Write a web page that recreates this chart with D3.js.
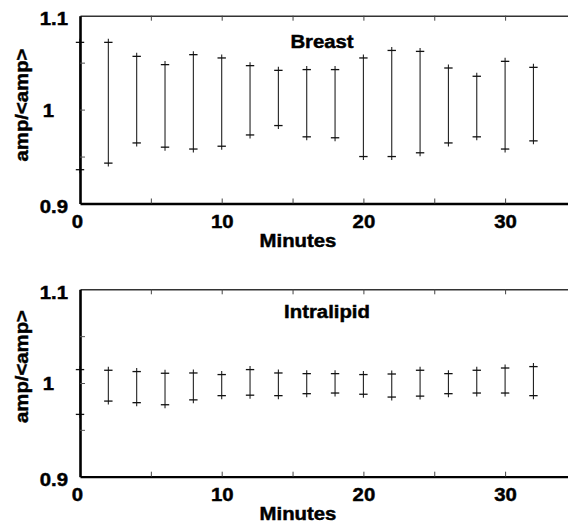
<!DOCTYPE html>
<html>
<head>
<meta charset="utf-8">
<script src="https://cdn.jsdelivr.net/npm/d3@7"></script>
<style>
  html, body { margin: 0; padding: 0; background: #fff; }
  svg { display: block; }
  text { font-family: "Liberation Sans", Arial, Helvetica, sans-serif; font-weight: bold; fill: #000; stroke: #000; stroke-width: 0.45px; }
</style>
</head>
<body>
<svg id="chart" width="568" height="526"></svg>
<script>
// ---- data ----
const minutes = [0, 2, 4, 6, 8, 10, 12, 14, 16, 18, 20, 22, 24, 26, 28, 30, 32];
const breastHigh = [1.0716, 1.0716, 1.0567, 1.0479, 1.0585, 1.0550, 1.0468, 1.0418, 1.0426, 1.0426, 1.0550, 1.0630, 1.0620, 1.0443, 1.0355, 1.0514, 1.0450];
const breastLow  = [0.9360, 0.9430, 0.9645, 0.9600, 0.9580, 0.9610, 0.9730, 0.9830, 0.9710, 0.9700, 0.9500, 0.9500, 0.9540, 0.9645, 0.9710, 0.9580, 0.9667];
const intraHigh  = [1.0143, 1.0136, 1.0122, 1.0104, 1.0107, 1.0090, 1.0143, 1.0107, 1.0100, 1.0100, 1.0090, 1.0096, 1.0136, 1.0100, 1.0136, 1.0160, 1.0175];
const intraLow   = [0.9665, 0.9807, 0.9790, 0.9768, 0.9820, 0.9865, 0.9870, 0.9865, 0.9886, 0.9893, 0.9880, 0.9850, 0.9860, 0.9886, 0.9893, 0.9893, 0.9865];
const panelTitles = ["Breast", "Intralipid"];
const xLabelTicks = [0, 10, 20, 30];
const xMinorTicks = [5, 10, 15, 20, 25, 30, 35];
const yLabelTicks = [0.9, 1, 1.1];
const yMinorTicks = [0.95, 1, 1.05];
const xTitle = "Minutes";
const yTitle = "amp/<amp>";

// ---- layout ----
const svg = d3.select("#chart");
const SX = 1.13; // horizontal stretch of the original lettering
const FS = 18;

const x = d3.scaleLinear().domain([0, 35]).range([80, 80 + 35 * 14.17]);

const panels = [
  { title: panelTitles[0], high: breastHigh, low: breastLow, top: 15.7, bottom: 203.5, titleX: 322, titleY: 48.3, yTitleY: 105 },
  { title: panelTitles[1], high: intraHigh, low: intraLow, top: 289.3, bottom: 476.7, titleX: 327, titleY: 318.3, yTitleY: 366.5 }
];

panels.forEach(p => {
  const y = d3.scaleLinear().domain([0.9, 1.1]).range([p.bottom, p.top]);
  const g = svg.append("g");

  // top frame line with inward ticks
  const topAx = g.append("g").attr("transform", `translate(0,${p.top})`)
    .call(d3.axisTop(x).tickValues(xMinorTicks).tickSize(-5).tickSizeOuter(0).tickFormat(""));
  topAx.select(".domain").attr("stroke", "#333").attr("stroke-width", 1.6);
  topAx.selectAll(".tick line").attr("stroke", "#444").attr("stroke-width", 1);

  // bottom axis with inward ticks
  const botAx = g.append("g").attr("transform", `translate(0,${p.bottom})`)
    .call(d3.axisBottom(x).tickValues(xMinorTicks).tickSize(-5).tickSizeOuter(0).tickFormat(""));
  botAx.select(".domain").attr("stroke", "#000").attr("stroke-width", 2.3);
  botAx.selectAll(".tick line").attr("stroke", "#444").attr("stroke-width", 1);

  // x tick labels
  const xl = g.append("g").attr("transform", `translate(0,${p.bottom})`)
    .call(d3.axisBottom(x).tickValues(xLabelTicks).tickSize(0).tickFormat(d3.format("d")));
  xl.select(".domain").remove();
  xl.selectAll(".tick text")
    .attr("y", 24.5).attr("dy", 0)
    .attr("dx", d => d === 0 ? -3 / SX : 0)
    .attr("font-size", FS).attr("font-family", null).attr("transform", `scale(${SX},1)`);

  // error bars
  const bars = g.append("g");
  minutes.forEach((m, i) => {
    const cx = x(m), yh = y(p.high[i]), yl = y(p.low[i]);
    bars.append("line").attr("x1", cx).attr("x2", cx).attr("y1", yh - 3.5).attr("y2", yl + 3.5)
      .attr("stroke", "#222").attr("stroke-width", 1.1);
    [yh, yl].forEach(yy => {
      bars.append("line").attr("x1", cx - 4.2).attr("x2", cx + 4.2).attr("y1", yy).attr("y2", yy)
        .attr("stroke", "#111").attr("stroke-width", 1.3);
    });
  });

  // left axis with inward ticks
  const leftAx = g.append("g").attr("transform", `translate(${x(0)},0)`)
    .call(d3.axisLeft(y).tickValues(yMinorTicks).tickSize(-5).tickSizeOuter(0).tickFormat(""));
  leftAx.select(".domain").attr("stroke", "#000").attr("stroke-width", 2.6);
  leftAx.selectAll(".tick line").attr("stroke", "#555").attr("stroke-width", 1);

  // y tick labels
  const yl = g.append("g").attr("transform", `translate(${x(0)},0)`)
    .call(d3.axisLeft(y).tickValues(yLabelTicks).tickSize(0).tickFormat(d => d === 1 ? "1" : d3.format(".1f")(d)));
  yl.select(".domain").remove();
  yl.selectAll(".tick text")
    .attr("x", d => (d === 1 ? -26 : -12) / SX)
    .attr("dy", 0)
    .attr("y", d => d === 1 ? 6.8 : (d > 1 ? 9 : 8.5))
    .attr("text-anchor", "end")
    .attr("font-size", FS).attr("font-family", null).attr("transform", `scale(${SX},1)`);

  // panel title
  svg.append("text")
    .attr("transform", `translate(${p.titleX},${p.titleY}) scale(${SX},1)`)
    .attr("text-anchor", "middle").attr("font-size", FS)
    .text(p.title);

  // x title
  svg.append("text")
    .attr("transform", `translate(298,${p.bottom + 43}) scale(${SX},1)`)
    .attr("text-anchor", "middle").attr("font-size", FS)
    .text(xTitle);

  // y title
  svg.append("text")
    .attr("transform", `translate(27.5,${p.yTitleY}) rotate(-90) scale(${SX},1)`)
    .attr("text-anchor", "middle").attr("font-size", FS)
    .text(yTitle);
});
</script>
</body>
</html>
